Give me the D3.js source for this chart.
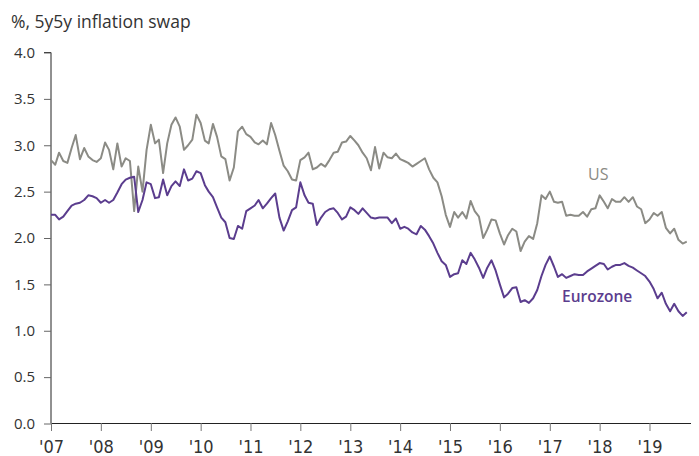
<!DOCTYPE html>
<html>
<head>
<meta charset="utf-8">
<script src="https://cdnjs.cloudflare.com/ajax/libs/d3/7.8.5/d3.min.js"></script>
<style>
  body { margin: 0; background: #fff; }
  #chart { width: 699px; height: 456px; }
  .title { font-family: "Open Sans", sans-serif; font-size: 17.5px; fill: #333; }
  .y-axis text { font-family: "Open Sans", sans-serif; font-size: 15px; fill: #333; }
  .x-axis text { font-family: "Liberation Sans Narrow", "DejaVu Sans Condensed", sans-serif; font-size: 18px; fill: #333; }
  .label { font-family: "Open Sans", sans-serif; font-size: 16px; }
</style>
</head>
<body>
<div id="chart"></div>
<script>
// first month of the series, one value per month after that
var startMonth = new Date(2007, 0, 1);
var endMonth = new Date(2019, 10, 1);

var yTicks = [0, 0.5, 1.0, 1.5, 2.0, 2.5, 3.0, 3.5, 4.0];

// US 5y5y inflation swap, monthly
var usValues = [
  2.84, 2.79, 2.92, 2.83, 2.81, 2.97, 3.11, 2.85, 2.97, 2.88, 2.84, 2.82,
  2.86, 3.03, 2.95, 2.74, 3.02, 2.77, 2.86, 2.83, 2.29, 2.77, 2.50, 2.95,
  3.22, 3.02, 3.06, 2.70, 3.02, 3.22, 3.30, 3.20, 2.95, 3.00, 3.06, 3.33,
  3.24, 3.05, 3.02, 3.23, 3.09, 2.88, 2.85, 2.62, 2.76, 3.15, 3.20, 3.12,
  3.09, 3.03, 3.01, 3.05, 3.01, 3.24, 3.11, 2.94, 2.78, 2.72, 2.63, 2.62,
  2.84, 2.87, 2.92, 2.74, 2.76, 2.80, 2.77, 2.84, 2.92, 2.93, 3.03, 3.04,
  3.10, 3.05, 3.00, 2.92, 2.86, 2.73, 2.98, 2.75, 2.92, 2.87, 2.86, 2.91,
  2.85, 2.83, 2.81, 2.77, 2.80, 2.83, 2.86, 2.74, 2.65, 2.60, 2.45, 2.25,
  2.12, 2.28, 2.22, 2.28, 2.21, 2.40, 2.29, 2.23, 2.00, 2.09, 2.20, 2.19,
  2.05, 1.93, 2.03, 2.10, 2.07, 1.86, 1.96, 2.02, 1.99, 2.16, 2.46, 2.42,
  2.50, 2.39, 2.38, 2.39, 2.24, 2.25, 2.24, 2.24, 2.28, 2.23, 2.31, 2.32,
  2.46, 2.39, 2.32, 2.42, 2.39, 2.39, 2.44, 2.39, 2.44, 2.34, 2.31, 2.16,
  2.20, 2.27, 2.24, 2.28, 2.11, 2.05, 2.10, 1.98, 1.94, 1.96
];

// Eurozone 5y5y inflation swap, monthly
var ezValues = [
  2.25, 2.25, 2.20, 2.23, 2.29, 2.35, 2.37, 2.38, 2.41, 2.46, 2.45, 2.43,
  2.38, 2.41, 2.38, 2.41, 2.49, 2.58, 2.63, 2.65, 2.66, 2.28, 2.41, 2.60,
  2.58, 2.43, 2.44, 2.63, 2.46, 2.56, 2.61, 2.56, 2.74, 2.62, 2.64, 2.72,
  2.70, 2.57, 2.50, 2.44, 2.33, 2.22, 2.17, 2.00, 1.99, 2.13, 2.10, 2.29,
  2.32, 2.35, 2.41, 2.32, 2.37, 2.43, 2.48, 2.22, 2.08, 2.18, 2.30, 2.33,
  2.60, 2.46, 2.38, 2.37, 2.14, 2.22, 2.28, 2.31, 2.32, 2.27, 2.20, 2.23,
  2.33, 2.30, 2.26, 2.32, 2.27, 2.22, 2.21, 2.22, 2.22, 2.22, 2.16, 2.21,
  2.10, 2.12, 2.10, 2.06, 2.04, 2.13, 2.09, 2.02, 1.94, 1.84, 1.75, 1.71,
  1.58, 1.61, 1.62, 1.76, 1.72, 1.84, 1.77, 1.68, 1.57, 1.68, 1.76, 1.65,
  1.50, 1.36, 1.40, 1.46, 1.47, 1.31, 1.33, 1.30, 1.35, 1.44, 1.59, 1.71,
  1.80, 1.69, 1.58, 1.61, 1.57, 1.59, 1.61, 1.60, 1.60, 1.64, 1.67, 1.70,
  1.73, 1.72, 1.66, 1.69, 1.71, 1.71, 1.73, 1.70, 1.68, 1.65, 1.62, 1.59,
  1.53, 1.45, 1.35, 1.41, 1.29, 1.21, 1.29, 1.21, 1.16, 1.20
];

var usColor = "#8b8b85";
var ezColor = "#5b3d8e";

var w = 699, h = 456;

var svg = d3.select("#chart")
            .append("svg")
            .attr("width", w)
            .attr("height", h);

// scales
var xScale = d3.scaleTime()
    .domain([startMonth, endMonth])
    .range([51, 691]);

var yScale = d3.scaleLinear()
    .domain([0, 4])
    .range([423.5, 52.5]);

// title
svg.append("text")
   .attr("class", "title")
   .attr("x", 11)
   .attr("y", 28)
   .text("%, 5y5y inflation swap");

// y axis
var yAxis = d3.axisLeft(yScale)
    .tickValues(yTicks)
    .tickSize(7)
    .tickPadding(9)
    .tickFormat(d3.format(".1f"));

var gy = svg.append("g")
    .attr("class", "y-axis")
    .attr("transform", "translate(51,0)")
    .call(yAxis);
gy.select(".domain").attr("stroke", "#222").attr("d", "M-7,52.5H0V423.5");
gy.selectAll(".tick line").attr("stroke", "#666");

// x axis
var xAxis = d3.axisBottom(xScale)
    .ticks(d3.timeYear.every(1))
    .tickSize(8)
    .tickPadding(9)
    .tickFormat(d3.timeFormat("'%y"));

var gx = svg.append("g")
    .attr("class", "x-axis")
    .attr("transform", "translate(0,423)")
    .call(xAxis);
gx.select(".domain").attr("stroke", "#222").attr("d", "M51,0.5H691");
gx.selectAll(".tick line").attr("stroke", "#777");

// lines
var line = d3.line()
    .x(function(d, i) { return xScale(d3.timeMonth.offset(startMonth, i)); })
    .y(function(d) { return yScale(d); });

svg.append("path")
   .datum(usValues)
   .attr("fill", "none")
   .attr("stroke", usColor)
   .attr("stroke-width", 2)
   .attr("stroke-linejoin", "round")
   .attr("d", line);

svg.append("path")
   .datum(ezValues)
   .attr("fill", "none")
   .attr("stroke", ezColor)
   .attr("stroke-width", 2)
   .attr("stroke-linejoin", "round")
   .attr("d", line);

// series labels
svg.append("text")
   .attr("class", "label")
   .attr("x", 588)
   .attr("y", 180)
   .attr("fill", usColor)
   .text("US");

svg.append("text")
   .attr("class", "label")
   .attr("x", 562)
   .attr("y", 302)
   .attr("fill", ezColor)
   .style("font-weight", 600)
   .style("font-size", "15.5px")
   .text("Eurozone");
</script>
</body>
</html>
